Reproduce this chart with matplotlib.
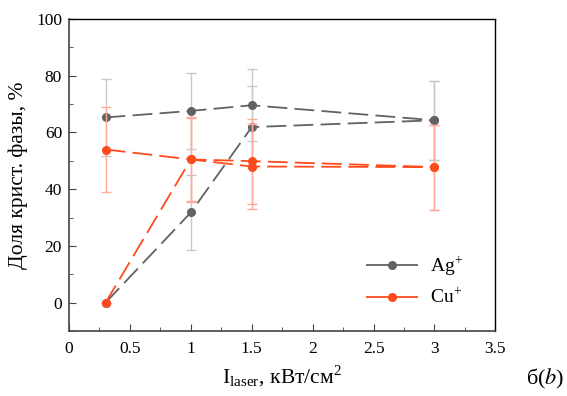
import numpy as np
import matplotlib
matplotlib.use('Agg')
from matplotlib import pyplot as plt

# intensity points, kW/cm^2
x = [0.3, 1.0, 1.5, 3.0]

# Ag+ (two runs)
ag_a = [65.3, 67.6, 69.6, 64.3]
ag_a_err = [13.6, 13.3, 12.7, 14.0]
ag_b = [0.0, 31.8, 61.9, 64.3]
ag_b_err = [0.0, 13.1, 14.4, 14.0]

# Cu+ (two runs)
cu_a = [54.0, 50.5, 48.0, 47.8]
cu_a_err = [15.0, 15.0, 15.0, 15.0]
cu_b = [0.0, 50.5, 49.9, 47.8]
cu_b_err = [0.0, 14.5, 15.0, 15.0]

xticks = [0, 0.5, 1, 1.5, 2, 2.5, 3, 3.5]
yticks = [0, 20, 40, 60, 80, 100]

GRAY = '#626262'
GRAY_LT = '#c9c9c9'
ORANGE = '#ff4a1c'
ORANGE_LT = '#ffab98'

plt.rcParams['font.family'] = ['Liberation Serif', 'DejaVu Serif']
plt.rcParams['mathtext.fontset'] = 'stix'

fig = plt.figure(figsize=(5.67, 3.96), dpi=100)
ax = fig.add_axes([0.1217, 0.164, 0.752, 0.788])

DASH = (11, 4)
line_kw = dict(lw=1.3, dashes=DASH, ms=5.5, marker='o', capsize=3.5, elinewidth=1.0, capthick=1.0)

ax.errorbar(x, ag_a, yerr=ag_a_err, color=GRAY, ecolor=GRAY_LT, zorder=3, **line_kw)
ax.errorbar(x, ag_b, yerr=ag_b_err, color=GRAY, ecolor=GRAY_LT, zorder=3, **line_kw)
ax.errorbar(x, cu_a, yerr=cu_a_err, color=ORANGE, ecolor=ORANGE_LT, zorder=4, **line_kw)
ax.errorbar(x, cu_b, yerr=cu_b_err, color=ORANGE, ecolor=ORANGE_LT, zorder=4, **line_kw)

# legend handles
h_ag, = ax.plot([], [], color=GRAY, marker='o', ms=5.5, lw=1.3, dashes=(31, 4))
h_cu, = ax.plot([], [], color=ORANGE, marker='o', ms=5.5, lw=1.3, dashes=(31, 4))
ax.legend([h_ag, h_cu], ['Ag$^\\mathregular{+}$', 'Cu$^\\mathregular{+}$'], loc='lower right',
          bbox_to_anchor=(0.965, 0.02), frameon=False, fontsize=14, handlelength=2.7,
          labelspacing=0.5, handletextpad=0.6)

ax.set_xlim(0, 3.5)
ax.set_ylim(-10, 100)
ax.set_xticks(xticks)
ax.set_xticklabels(['0', '0.5', '1', '1.5', '2', '2.5', '3', '3.5'])
ax.set_yticks(yticks)
ax.set_xticks(np.arange(0.25, 3.5, 0.5), minor=True)
ax.set_yticks(np.arange(-10, 100, 20), minor=True)
ax.tick_params(which='both', direction='in', top=False, right=False, labelsize=12.5, color='#444444')
ax.tick_params(which='major', length=5)
ax.tick_params(which='minor', length=3)
ax.tick_params(axis='x', pad=7)
ax.tick_params(axis='y', pad=5)
for s in ['left', 'bottom']:
    ax.spines[s].set_color('#444444')
    ax.spines[s].set_linewidth(1.2)
for s in ['top', 'right']:
    ax.spines[s].set_color('black')
    ax.spines[s].set_linewidth(1.0)

ax.set_ylabel('Доля крист. фазы, %', fontsize=15.5, labelpad=6)
ax.set_xlabel('I$_\\mathregular{laser}$, кВт/см$^\\mathregular{2}$', fontsize=15.5, labelpad=5)

fig.text(0.995, 0.03, 'б($\\it{b}$)', ha='right', va='baseline', fontsize=16)

fig.savefig('out.png', dpi=100)
